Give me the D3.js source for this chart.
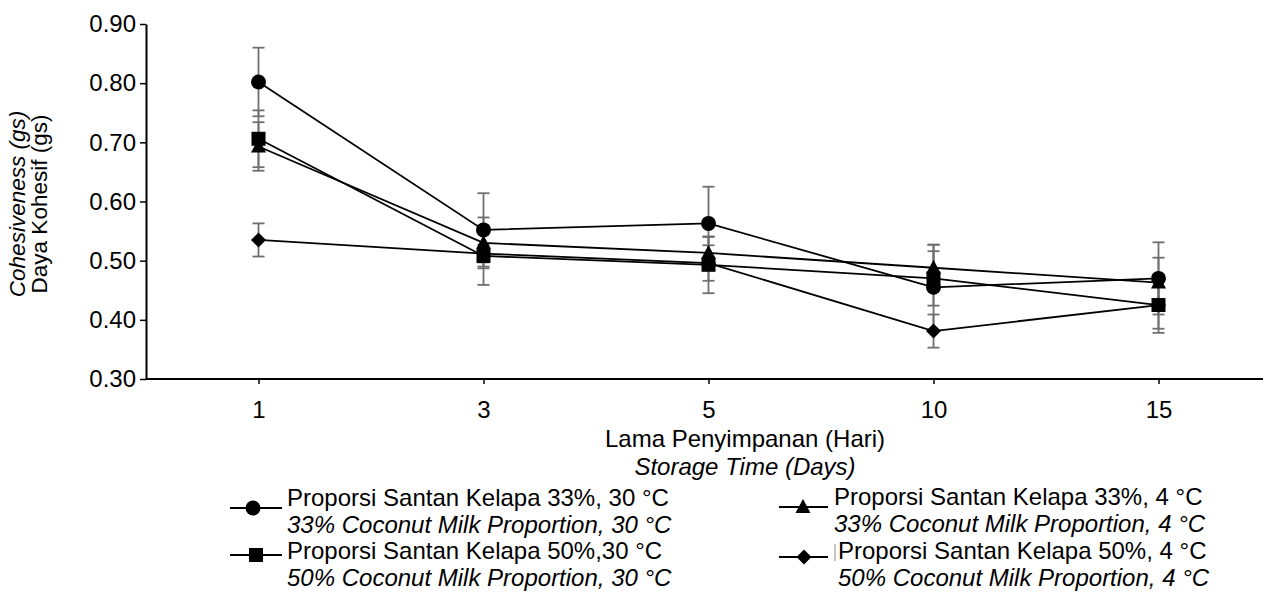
<!DOCTYPE html>
<html>
<head>
<meta charset="utf-8">
<script src="https://cdn.jsdelivr.net/npm/d3@7"></script>
<style>
  body { margin: 0; background: #fff; }
  svg { display: block; font-family: "Liberation Sans", Arial, sans-serif; }
</style>
</head>
<body>
<svg id="chart" width="1263" height="599"></svg>
<script>
// storage days (categories)
const days = ["1", "3", "5", "10", "15"];
const yTicks = [0.30, 0.40, 0.50, 0.60, 0.70, 0.80, 0.90];

// mean cohesiveness and error per series
const c33hot = [0.802, 0.552, 0.563, 0.455, 0.470];
const c33hotErr = [0.058, 0.062, 0.062, 0.072, 0.061];
const c50hot = [0.706, 0.508, 0.493, 0.470, 0.425];
const c50hotErr = [0.048, 0.049, 0.048, 0.046, 0.047];
const c33cold = [0.693, 0.530, 0.513, 0.488, 0.463];
const c33coldErr = [0.041, 0.043, 0.027, 0.039, 0.042];
const c50cold = [0.535, 0.512, 0.496, 0.381, 0.425];
const c50coldErr = [0.028, 0.015, 0.030, 0.028, 0.040];

const legendId = ["Proporsi Santan Kelapa 33%, 30 °C", "Proporsi Santan Kelapa 50%,30 °C",
                  "Proporsi Santan Kelapa 33%, 4 °C", "Proporsi Santan Kelapa 50%, 4 °C"];
const legendEn = ["33% Coconut Milk Proportion, 30 °C", "50% Coconut Milk Proportion, 30 °C",
                  "33% Coconut Milk Proportion, 4 °C", "50% Coconut Milk Proportion, 4 °C"];

const series = [
  { vals: c33hot, err: c33hotErr, shape: "circle" },
  { vals: c50hot, err: c50hotErr, shape: "square" },
  { vals: c33cold, err: c33coldErr, shape: "triangle" },
  { vals: c50cold, err: c50coldErr, shape: "diamond" }
];

const svg = d3.select("#chart");
const x = d3.scalePoint().domain(days).range([146, 1271]).padding(0.5);
const y = d3.scaleLinear().domain([0.3, 0.9]).range([379, 24]);

// marker shapes
function shapePath(shape) {
  if (shape === "circle") return d3.symbol(d3.symbolCircle, Math.PI * 7.5 * 7.5)();
  if (shape === "square") return `M-7,-7H7V7H-7Z`;
  if (shape === "triangle") return `M0,-8L7.5,6L-7.5,6Z`;
  return `M0,-7.5L7.5,0L0,7.5L-7.5,0Z`;
}

// axes
const yAxis = svg.append("g")
  .attr("transform", "translate(146,0)")
  .call(d3.axisLeft(y).tickValues(yTicks).tickFormat(d3.format(".2f")).tickSize(6).tickSizeOuter(0));
yAxis.select(".domain").attr("stroke", "#000").attr("stroke-width", 2);
yAxis.selectAll(".tick line").attr("stroke", "#000").attr("stroke-width", 1.5);
yAxis.selectAll(".tick text").attr("font-size", 24).attr("fill", "#000").attr("x", -10)
  .attr("font-family", "Liberation Sans, Arial, sans-serif");

const xAxis = svg.append("g")
  .attr("transform", "translate(0,379)")
  .call(d3.axisBottom(x).tickSize(5).tickSizeOuter(0));
xAxis.select(".domain").attr("d", "M146,0H1263").attr("stroke", "#000").attr("stroke-width", 2);
xAxis.selectAll(".tick line").attr("stroke", "#000").attr("stroke-width", 1.5);
xAxis.selectAll(".tick text").attr("font-size", 24).attr("fill", "#000").attr("y", 22).attr("dy", "0.71em")
  .attr("font-family", "Liberation Sans, Arial, sans-serif");

// axis titles
svg.append("text").attr("x", 745).attr("y", 447).attr("text-anchor", "middle")
  .attr("font-size", 24).text("Lama Penyimpanan (Hari)");
svg.append("text").attr("x", 745).attr("y", 475).attr("text-anchor", "middle")
  .attr("font-size", 24).attr("font-style", "italic").text("Storage Time (Days)");

const yt = svg.append("g").attr("transform", "translate(0,204) rotate(-90)");
yt.append("text").attr("x", 0).attr("y", 25).attr("text-anchor", "middle")
  .attr("font-size", 22.5).attr("font-style", "italic").text("Cohesiveness (gs)");
yt.append("text").attr("x", 0).attr("y", 47).attr("text-anchor", "middle")
  .attr("font-size", 22.5).text("Daya Kohesif (gs)");

// error bars
const errG = svg.append("g").attr("stroke", "#6f6f6f").attr("stroke-width", 1.8);
series.forEach(s => {
  s.vals.forEach((v, i) => {
    const cx = x(days[i]);
    const top = y(v + s.err[i]), bot = y(v - s.err[i]);
    errG.append("line").attr("x1", cx).attr("x2", cx).attr("y1", top).attr("y2", bot);
    errG.append("line").attr("x1", cx - 6).attr("x2", cx + 6).attr("y1", top).attr("y2", top);
    errG.append("line").attr("x1", cx - 6).attr("x2", cx + 6).attr("y1", bot).attr("y2", bot);
  });
});

// lines
const line = d3.line().x((d, i) => x(days[i])).y(d => y(d));
series.forEach(s => {
  svg.append("path").datum(s.vals).attr("d", line)
    .attr("fill", "none").attr("stroke", "#000").attr("stroke-width", 1.8);
});

// markers
series.forEach(s => {
  svg.append("g").selectAll("path").data(s.vals).enter().append("path")
    .attr("transform", (d, i) => `translate(${x(days[i])},${y(d)})`)
    .attr("d", shapePath(s.shape)).attr("fill", "#000");
});

// legend
const legPos = [
  { lx: 230, rx: 282, mx: 253, tx: 287, ly: 508, ty: 506 },
  { lx: 230, rx: 282, mx: 256, tx: 287, ly: 555, ty: 559 },
  { lx: 779, rx: 828, mx: 803, tx: 834, ly: 507, ty: 505 },
  { lx: 779, rx: 828, mx: 804, tx: 838, ly: 557, ty: 559 }
];
series.forEach((s, k) => {
  const p = legPos[k];
  svg.append("line").attr("x1", p.lx).attr("x2", p.rx).attr("y1", p.ly).attr("y2", p.ly)
    .attr("stroke", "#000").attr("stroke-width", 1.8);
  svg.append("path").attr("transform", `translate(${p.mx},${p.ly})`)
    .attr("d", shapePath(s.shape)).attr("fill", "#000");
  svg.append("text").attr("x", p.tx).attr("y", p.ty).attr("font-size", 24).text(legendId[k]);
  svg.append("text").attr("x", p.tx).attr("y", p.ty + 27).attr("font-size", 24)
    .attr("font-style", "italic").text(legendEn[k]);
});
// small stray bar before the last legend entry
svg.append("line").attr("x1", 835).attr("x2", 835).attr("y1", 544).attr("y2", 561)
  .attr("stroke", "#888").attr("stroke-width", 1);
</script>
</body>
</html>
